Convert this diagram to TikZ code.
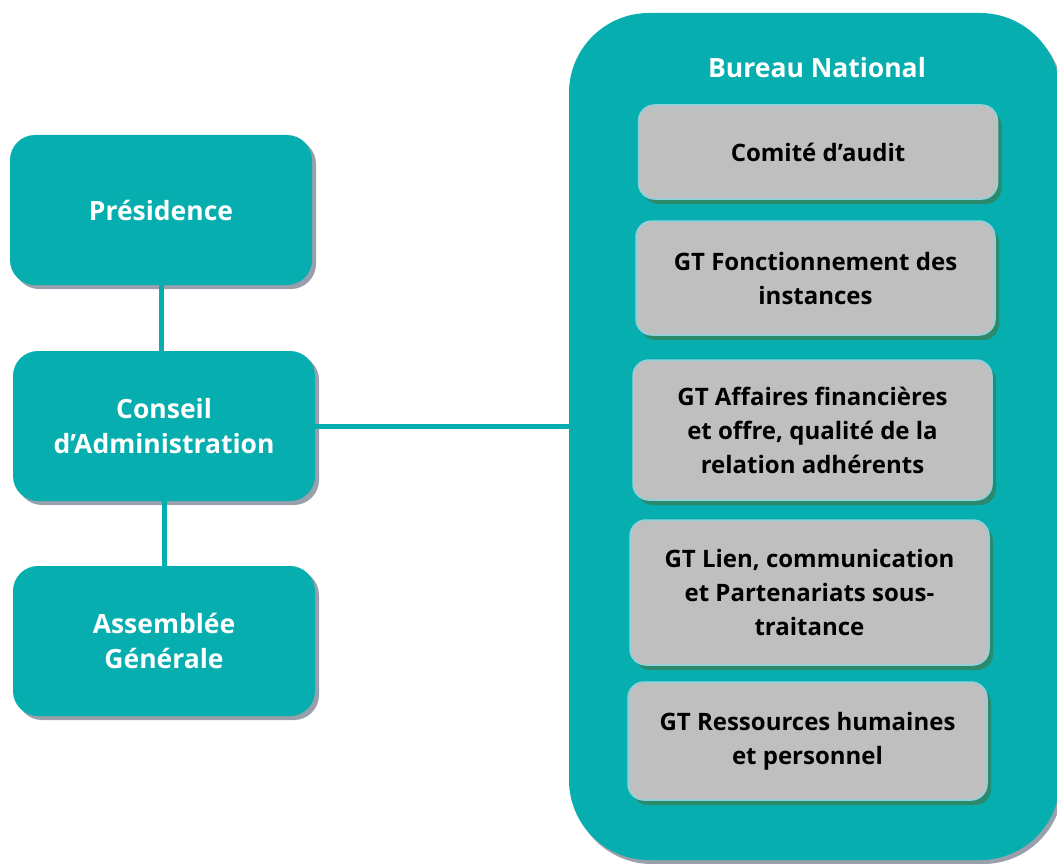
\documentclass[tikz,border=0pt]{standalone}
\usepackage{fontspec}
\setmainfont{Open Sans}
\usetikzlibrary{shadows}
\definecolor{teal1}{HTML}{07AEAF}
\definecolor{tshadow}{HTML}{98A0AC}
\definecolor{gbox}{HTML}{BFBFBF}
\definecolor{gborder}{HTML}{8ED2DC}
\definecolor{gshadow}{HTML}{2C8A6C}
\tikzset{
  tealbox/.style={fill=teal1, draw=none, rounded corners=25pt, minimum width=302pt, minimum height=150pt, align=center, text=white, font=\bfseries\fontsize{26.5}{35}\selectfont, drop shadow={shadow xshift=4pt, shadow yshift=-4pt, fill=tshadow, opacity=1}},
  graybox/.style={fill=gbox, draw=gborder, line width=1.5pt, rounded corners=16pt, minimum width=359pt, align=center, text=black, font=\bfseries\fontsize{24}{34}\selectfont, drop shadow={shadow xshift=4pt, shadow yshift=-5pt, fill=gshadow, opacity=1}},
  conn/.style={draw=teal1, line width=5pt}
}
\begin{document}
\begin{tikzpicture}[x=1pt,y=-1pt]
\useasboundingbox (0,0) rectangle (1057,864);
\clip (0,0) rectangle (1057,864);
\node[fill=teal1, rounded corners=80pt, minimum width=491pt, minimum height=847pt, drop shadow={shadow xshift=3pt, shadow yshift=-4pt, fill=tshadow, opacity=1}] (bureau) at (814.5,436.5) {};
\node[text=white, font=\bfseries\fontsize{26.5}{35}\selectfont] (bntitle) at (817,68) {Bureau National};
\node[tealbox] (pres) at (161,210) {Présidence};
\node[tealbox] (ca) at (164,426) {Conseil\\d’Administration};
\node[tealbox] (ag) at (164,641) {Assemblée\\Générale};
\draw[conn] (pres.south) -- (ca.north -| pres.south);
\draw[conn] (ca.south) -- (ag.north);
\draw[conn] (ca.east) -- (bureau.west |- ca.east);
\node[graybox, minimum height=94pt] (g1) at (818,152) {Comité d’audit};
\node[graybox, minimum height=114pt] (g2) at (815.5,278) {GT Fonctionnement des\\instances};
\node[graybox, minimum height=140pt] (g3) at (812.5,430) {GT Affaires financières\\et offre, qualité de la\\relation adhérents};
\node[graybox, minimum height=145pt] (g4) at (809.5,592.5) {GT Lien, communication\\et Partenariats sous-\\traitance};
\node[graybox, minimum height=118pt] (g5) at (807.5,741) {GT Ressources humaines\\et personnel};
\end{tikzpicture}
\end{document}
